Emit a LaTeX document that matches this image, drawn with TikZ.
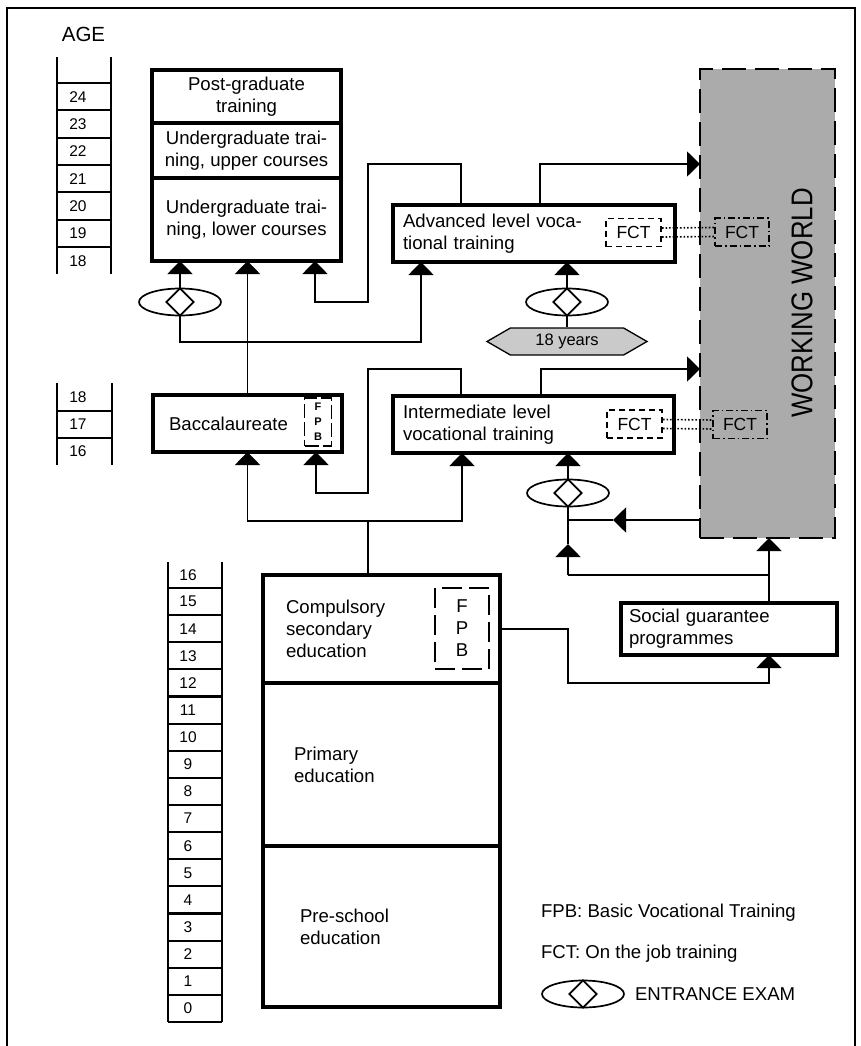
\documentclass[tikz,border=0pt]{standalone}
\usepackage{fontspec}
\usepackage{graphicx}
\setmainfont{Liberation Sans}
\usetikzlibrary{arrows.meta,positioning,shapes.geometric,shapes.symbols}
\definecolor{wwgray}{HTML}{ABABAB}
\definecolor{yrgray}{HTML}{CACACA}

\begin{document}
\begin{tikzpicture}[x=1pt,y=-1pt,font=\fontsize{18.6}{22}\selectfont,
 >={Triangle[width=25pt,length=13pt]},
 box/.style={draw,line width=3.5pt,anchor=north west,inner sep=0pt,outer sep=0pt},
 link/.style={line width=1.8pt},
 rung/.style={line width=2.2pt},
 age/.style={font=\fontsize{15.5}{18}\selectfont,inner sep=0pt},
 exam/.style={draw,ellipse,line width=1.7pt,fill=white,minimum width=82pt,minimum height=27pt,inner sep=0pt},
 gem/.style={draw,diamond,line width=1.7pt,minimum width=28pt,minimum height=28pt,inner sep=0pt},
 fct/.style={draw,line width=1.8pt,dash pattern=on 6pt off 4pt,minimum width=55pt,minimum height=28pt,inner sep=0pt,font=\fontsize{17.5}{20}\selectfont},
 fctw/.style={draw,line width=1.2pt,dash pattern=on 7pt off 3pt on 1.5pt off 3pt,minimum width=54pt,minimum height=28pt,inner sep=0pt,font=\fontsize{17.5}{20}\selectfont},
 fpb/.style={draw,align=center,inner sep=0pt}]
\useasboundingbox (0,0) rectangle (860,1046);
% frame
\draw[line width=1.5pt] (7,1060) -- (7,8) -- (855,8) -- (855,1060);
% age ladders
\node[font=\fontsize{20.5}{24}\selectfont] (agehd) at (83.5,34.5) {AGE};
\draw[rung] (57,57) -- (57,274) (111,57) -- (111,274);
\foreach \i in {0,...,6} \draw[rung] (57,{83+27.33*\i}) -- (111,{83+27.33*\i});
\foreach \a [count=\i from 0] in {24,...,18} \node[age] (top\a) at (78,{96.7+27.33*\i}) {\a};
\draw[rung] (57,383) -- (57,465) (112,383) -- (112,465) (57,411) -- (112,411) (57,438) -- (112,438);
\foreach \a/\y in {18/397,17/424.5,16/451.5} \node[age] (mid\a) at (78,\y) {\a};
\draw[rung] (168,562) -- (168,1022) (222,562) -- (222,1022);
\foreach \i in {0,...,16} \draw[rung] (168,{588+27.125*\i}) -- (222,{588+27.125*\i});
\node[age] (low16) at (188,575) {16};
\foreach \a [count=\i from 0] in {15,...,0} \node[age] (low\a) at (188,{601.6+27.125*\i}) {\a};
% university
\node[box,minimum width=189pt,minimum height=53pt,align=center] (pgrad) at (152,70) {Post-graduate\\training};
\node[box,minimum width=189pt,minimum height=55pt,align=center] (ugup) at (152,123) {Undergraduate trai-\\ning, upper courses};
\node[box,minimum width=189pt,minimum height=83pt,align=center] (uglow) at (152,178) {Undergraduate trai-\\ning, lower courses};
% upper secondary and vocational
\node[box,minimum width=189pt,minimum height=57pt,text width=157pt,inner xsep=16pt,align=left] (bacc) at (153,395) {Baccalaureate};
\node[fpb,line width=1.5pt,dash pattern=on 14pt off 4pt,minimum width=27pt,minimum height=48pt,font=\fontsize{11}{15}\selectfont\bfseries] (fpbA) at (318,422) {F\\P\\B};
\node[box,minimum width=282pt,minimum height=57pt,text width=262pt,inner xsep=10pt,align=left] (advvt) at (393,205) {Advanced level voca-\\tional training};
\node[fct] (fctA) at (633.5,232.5) {FCT};
\node[box,minimum width=281pt,minimum height=57pt,text width=261pt,inner xsep=10pt,align=left] (intvt) at (393,396) {Intermediate level\\vocational training};
\node[fct] (fctI) at (634.5,424) {FCT};
% working world
\node[draw,fill=wwgray,line width=2pt,dash pattern=on 24pt off 9pt,minimum width=135pt,minimum height=469pt,anchor=north west,inner sep=0pt,outer sep=0pt] (wwld) at (700,69) {};
\node[rotate=90,font=\fontsize{30}{30}\selectfont] (wwtxt) at (802,303) {\scalebox{0.86}[1]{WORKING WORLD}};
\node[fctw] (fctWA) at (742,232) {FCT};
\node[fctw] (fctWI) at (740,424.5) {FCT};
\foreach \dy in {-4.5,4.5}{
\draw[dotted,line width=1.6pt] ([yshift=\dy pt]fctA.east) -- ([yshift=\dy pt]fctWA.west);
\draw[dotted,line width=1.6pt] ([yshift=\dy pt]fctI.east) -- ([yshift=\dy pt]fctWI.west);}
% compulsory levels
\node[box,minimum width=237pt,minimum height=108pt,text width=191pt,inner xsep=23pt,align=left] (csec) at (263,575) {Compulsory\\secondary\\education};
\node[fpb,line width=2pt,dash pattern=on 20pt off 7pt,minimum width=54pt,minimum height=81pt] (fpbB) at (462,628.5) {F\\P\\B};
\node[box,minimum width=237pt,minimum height=163pt,text width=175pt,inner xsep=31pt,align=left] (prim) at (263,683) {Primary\\education};
\node[box,minimum width=237pt,minimum height=161pt,text width=163pt,inner xsep=37pt,align=left] (presch) at (263,846) {Pre-school\\education};
\node[box,minimum width=216pt,minimum height=52pt,text width=200pt,inner xsep=8pt,align=left] (socg) at (621,603) {Social guarantee\\programmes};
% exams
\foreach \n/\x/\y in {A/180/302,B/567/302,C/568/493,L/583/994}{
\node[exam] (exam\n) at (\x,\y) {};
\node[gem] (gem\n) at (\x,\y) {};}
\node[signal,signal to=east and west,signal pointer angle=60,draw,fill=yrgray,line width=1.3pt,minimum width=160pt,minimum height=27pt,inner sep=0pt,font=\fontsize{16.5}{18}\selectfont] (age18) at (567,341.5) {18 years};
% connectors
\coordinate (rowA) at (0,164);
\coordinate (rowC) at (0,369);
\coordinate (jc) at (368,521);
\coordinate (jw) at (568,520);
\coordinate (tipw) at (613,520);
\coordinate (js) at (568,575);
\coordinate (tips) at (568,544);
\coordinate (sgtop) at ([xshift=148pt]socg.north west);
\draw[link,->] (examA.north) -- (examA.north |- uglow.south);
\draw[link,->] (examA.south) -- (180,342) -| ([xshift=28pt]advvt.south west);
\draw[link,->] (bacc.north) -- (bacc.north |- uglow.south);
\draw[link,->] ([xshift=68pt]advvt.north west) -- ++(0,-41) -| (368,302) -| ([xshift=163pt]uglow.south west);
\draw[link,->] ([xshift=147pt]advvt.north west) |- (wwld.west |- rowA);
\draw[link,->] (examB.north) -- (examB.north |- advvt.south);
\draw[link] (age18.north) -- (examB.south);
\draw[link] ([xshift=105pt]csec.north west) -- (jc);
\draw[link,->] (jc) -| (bacc.south);
\draw[link,->] (jc) -| ([xshift=69pt]intvt.south west);
\draw[link,->] ([xshift=68pt]intvt.north west) -- ++(0,-27) -| (368,493) -| ([xshift=163pt]bacc.south west);
\draw[link,->] ([xshift=148pt]intvt.north west) |- (wwld.west |- rowC);
\draw[link,->] (examC.north) -- (examC.north |- intvt.south);
\draw[link,->] (wwld.west |- jw) -- (tipw);
\draw[link] (tipw) -- (jw);
\draw[link,->] (js) -- (tips);
\draw[link] (tips) -- (examC.south);
\draw[link,->] (sgtop) -- (sgtop |- wwld.south);
\draw[link] (sgtop |- js) -- (js);
\draw[link,->] (csec.east) -| (568,683) -| (sgtop |- socg.south);
% legend
\node[anchor=west] (lgfpb) at (537.5,913) {FPB: Basic Vocational Training};
\node[anchor=west] (lgfct) at (537.5,954) {FCT: On the job training};
\node[anchor=west] (lgexam) at (631.5,994) {ENTRANCE EXAM};
\end{tikzpicture}
\end{document}
